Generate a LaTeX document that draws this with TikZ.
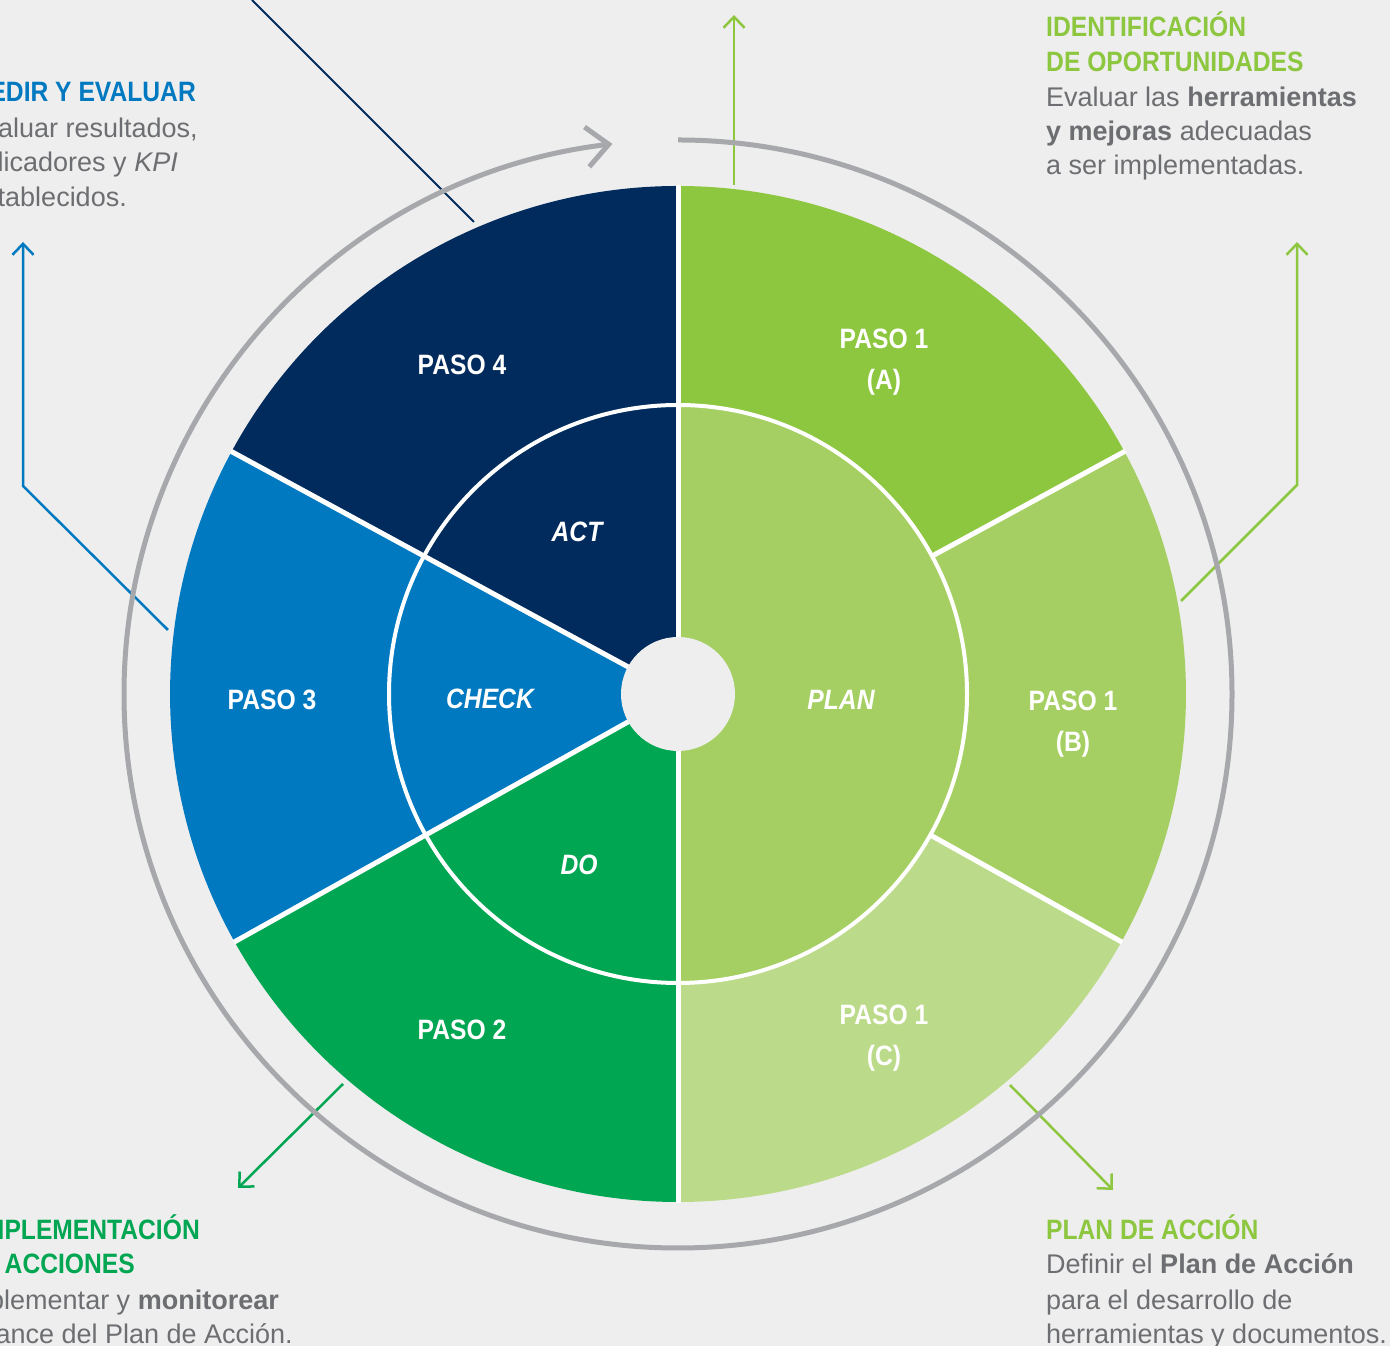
\documentclass[tikz,border=0pt]{standalone}
\usepackage{fontspec}
\setmainfont{Liberation Sans}
\newfontfamily\condf[FakeStretch=0.88]{Liberation Sans}
\usetikzlibrary{arrows.meta,calc}
\definecolor{navy}{HTML}{002B5C}
\definecolor{cblue}{HTML}{0079C1}
\definecolor{dgreen}{HTML}{00A651}
\definecolor{gA}{HTML}{8DC63F}
\definecolor{gB}{HTML}{A5CF63}
\definecolor{gC}{HTML}{BCDB8A}
\definecolor{bg}{HTML}{EEEEEE}
\definecolor{ring}{HTML}{A7A8AB}
\definecolor{txt}{HTML}{6D6E71}
\begin{document}
\begin{tikzpicture}[x=1pt,y=1pt,
  lbl/.style={text=white, font=\condf\bfseries\fontsize{28}{34}\selectfont, anchor=base, inner sep=0pt},
  ilbl/.style={lbl, font=\condf\bfseries\itshape\fontsize{28}{34}\selectfont},
  head/.style={font=\condf\bfseries\fontsize{28}{34}\selectfont, inner sep=0pt},
  body/.style={text=txt, font=\fontsize{27}{34}\selectfont, inner sep=0pt},
  call/.style={line width=2.5pt, -{Straight Barb[length=11pt,width=21pt]}},
  sep/.style={white, line width=5pt},
]
\useasboundingbox (0,0) rectangle (1390,1346);
\fill[bg] (0,0) rectangle (1390,1346);
\clip (0,0) rectangle (1390,1346);

\coordinate (C) at (678,652);

% callout connectors
\coordinate (n1) at (474,1124); \coordinate (n2) at (252,1346);
\draw[navy, line width=2pt] (n1) -- (n2);
\coordinate (u1) at (734,1161); \coordinate (u2) at (734,1331);
\draw[call, gA] (u1) -- (u2);
\coordinate (r1) at (1181,745); \coordinate (r2) at (1297,861); \coordinate (r3) at (1297,1104);
\draw[call, gA] (r1) -- (r2) -- (r3);
\coordinate (l1) at (168,716); \coordinate (l2) at (23,860); \coordinate (l3) at (23,1104);
\draw[call, cblue] (l1) -- (l2) -- (l3);
\coordinate (d1) at (343,262); \coordinate (d2) at (238,158);
\draw[call, dgreen] (d1) -- (d2);
\coordinate (p1) at (1010,261); \coordinate (p2) at (1113,156);
\draw[call, gA] (p1) -- (p2);

% outer ring with arrow
\coordinate (RS) at (678,1206);
\draw[ring, line width=5pt, -{Straight Barb[length=22pt,width=40pt]}] (RS) arc[start angle=90, end angle=-263.2, radius=554];

% outer sectors
\fill[gA] (C) -- ++(28.5:508) arc[start angle=28.5, end angle=90, radius=508] -- cycle;
\fill[gB] (C) -- ++(-29.2:508) arc[start angle=-29.2, end angle=28.5, radius=508] -- cycle;
\fill[gC] (C) -- ++(-90:508) arc[start angle=-90, end angle=-29.2, radius=508] -- cycle;
\fill[navy] (C) -- ++(90:508) arc[start angle=90, end angle=151.5, radius=508] -- cycle;
\fill[cblue] (C) -- ++(151.5:508) arc[start angle=151.5, end angle=209.2, radius=508] -- cycle;
\fill[dgreen] (C) -- ++(209.2:508) arc[start angle=209.2, end angle=270, radius=508] -- cycle;
% inner PLAN
\fill[gB] (C) -- ++(-90:289) arc[start angle=-90, end angle=90, radius=289] -- cycle;
\draw[white, line width=4pt] (C) circle[radius=289];
% separators
\draw[sep] (C) -- ++(90:509);
\draw[sep] (C) -- ++(-90:509);
\draw[sep] (C) -- ++(151.5:509);
\draw[sep] (C) -- ++(209.2:509);
\draw[sep] ($(C)+(28.5:289)$) -- ($(C)+(28.5:509)$);
\draw[sep] ($(C)+(-29.2:289)$) -- ($(C)+(-29.2:509)$);
\fill[bg] (C) circle[radius=57];

% sector labels
\node[lbl] (s1a) at (884,997) {PASO 1};
\node[lbl] (s1a2) at (884,956) {(A)};
\node[lbl] (s1b) at (1073,635) {PASO 1};
\node[lbl] (s1b2) at (1073,594) {(B)};
\node[lbl] (s1c) at (884,321) {PASO 1};
\node[lbl] (s1c2) at (884,280) {(C)};
\node[lbl] (s4) at (462,971) {PASO 4};
\node[lbl] (s3) at (272,636) {PASO 3};
\node[lbl] (s2) at (462,306) {PASO 2};
\node[ilbl] (act) at (577,804) {ACT};
\node[ilbl] (chk) at (490,637) {CHECK};
\node[ilbl] (pln) at (841,636) {PLAN};
\node[ilbl] (do) at (579,471) {DO};

% top right text
\node[head, text=gA, anchor=base west] (tr1) at (1046,1309) {IDENTIFICACIÓN};
\node[head, text=gA, anchor=base west] (tr2) at (1046,1274) {DE OPORTUNIDADES};
\node[body, anchor=base west] (tr3) at (1046,1239) {Evaluar las \textbf{herramientas}};
\node[body, anchor=base west] (tr4) at (1046,1205) {\textbf{y mejoras} adecuadas};
\node[body, anchor=base west] (tr5) at (1046,1171) {a ser implementadas.};

% top left text
\node[head, text=cblue, anchor=base east] (tl1) at (196,1244) {MEDIR Y EVALUAR};
\node[body, anchor=base east] (tl2) at (198,1208) {Evaluar resultados,};
\node[body, anchor=base east] (tl3) at (178,1174) {indicadores y \textit{KPI}};
\node[body, anchor=base east] (tl4) at (127,1139) {establecidos.};

% bottom left text
\node[head, text=dgreen, anchor=base east] (bl1) at (200,106) {IMPLEMENTACIÓN};
\node[head, text=dgreen, anchor=base east] (bl2) at (135,72) {DE ACCIONES};
\node[body, anchor=base east] (bl3) at (279,36) {Implementar y \textbf{monitorear}};
\node[body, anchor=base east] (bl4) at (293,2) {el avance del Plan de Acción.};

% bottom right text
\node[head, text=gA, anchor=base west] (br1) at (1046,106) {PLAN DE ACCIÓN};
\node[body, anchor=base west] (br2) at (1046,72) {Definir el \textbf{Plan de Acción}};
\node[body, anchor=base west] (br3) at (1046,36) {para el desarrollo de};
\node[body, anchor=base west] (br4) at (1046,2) {herramientas y documentos.};
\end{tikzpicture}
\end{document}
